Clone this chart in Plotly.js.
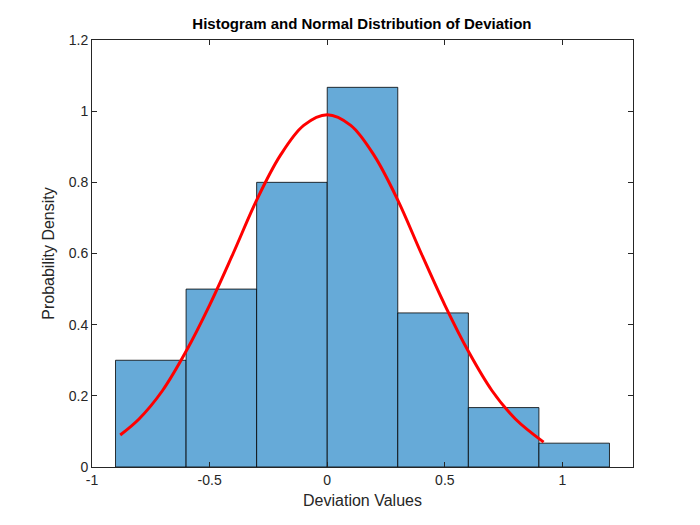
<!DOCTYPE html>
<html>
<head>
<script src="https://cdn.plot.ly/plotly-3.0.1.min.js"></script>
<style>body{margin:0;background:#fff}</style>
</head>
<body>
<div id="chart" style="width:700px;height:525px"></div>
<script>
// histogram bins (centers) and densities
var binCenters = [-0.75, -0.45, -0.15, 0.15, 0.45, 0.75, 1.05];
var binDensity = [0.30, 0.50, 0.80, 1.067, 0.433, 0.167, 0.067];
var binWidth = 0.3;

// normal curve
var curveX = [-0.88, -0.8, -0.7, -0.6, -0.5, -0.4, -0.3, -0.2, -0.1, 0, 0.1, 0.2, 0.3, 0.4, 0.5, 0.6, 0.7, 0.8, 0.92];
var curveY = [0.09, 0.135, 0.215, 0.325, 0.455, 0.60, 0.75, 0.875, 0.96, 0.99, 0.96, 0.875, 0.75, 0.60, 0.455, 0.325, 0.215, 0.135, 0.07];

var bars = {
  type: 'bar',
  x: binCenters,
  y: binDensity,
  width: binWidth,
  marker: {color: '#66aad8', line: {color: '#000', width: 0.8}},
  hoverinfo: 'x+y'
};

var curve = {
  type: 'scatter',
  mode: 'lines',
  x: curveX,
  y: curveY,
  line: {color: '#ff0000', width: 3, shape: 'spline'}
};

var axisStyle = {
  showgrid: false,
  zeroline: false,
  showline: true,
  mirror: 'ticks',
  linecolor: '#262626',
  linewidth: 1,
  ticks: 'inside',
  ticklen: 5,
  tickcolor: '#262626',
  tickfont: {size: 14, color: '#262626'}
};

var layout = {
  width: 700,
  height: 525,
  showlegend: false,
  paper_bgcolor: '#fff',
  plot_bgcolor: '#fff',
  font: {family: 'Liberation Sans, Arial, sans-serif', color: '#262626'},
  margin: {l: 92, r: 67, t: 40, b: 58},
  title: {text: '<b>Histogram and Normal Distribution of Deviation</b>', font: {size: 15, color: '#000'}, x: 0.517, y: 0.965, xanchor: 'center'},
  xaxis: Object.assign({}, axisStyle, {
    range: [-1, 1.3],
    tickvals: [-1, -0.5, 0, 0.5, 1],
    ticktext: ['-1', '-0.5', '0', '0.5', '1'],
    title: {text: 'Deviation Values', font: {size: 16, color: '#262626'}, standoff: 8}
  }),
  yaxis: Object.assign({}, axisStyle, {
    range: [0, 1.2],
    tickvals: [0, 0.2, 0.4, 0.6, 0.8, 1, 1.2],
    ticktext: ['0', '0.2', '0.4', '0.6', '0.8', '1', '1.2'],
    title: {text: 'Probability Density', font: {size: 16, color: '#262626'}, standoff: 10}
  }),
  bargap: 0
};

Plotly.newPlot('chart', [bars, curve], layout, {displayModeBar: false, staticPlot: true});
</script>
</body>
</html>
